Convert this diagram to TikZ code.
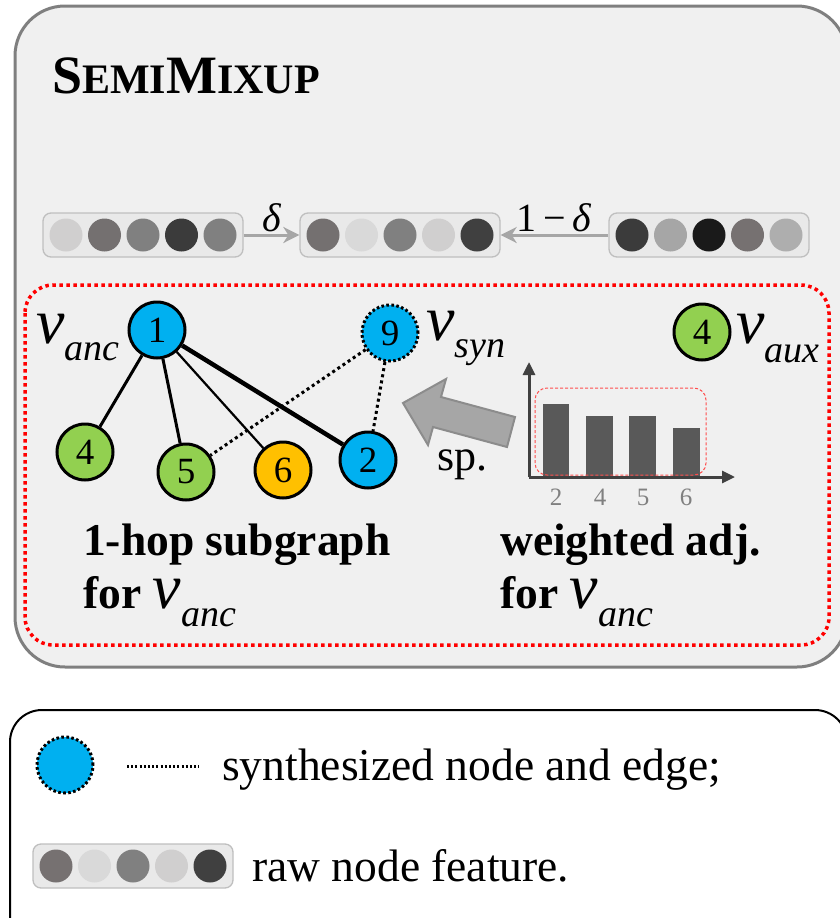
\documentclass[tikz,border=0pt]{standalone}
\usepackage{fontspec}
\setmainfont{Liberation Serif}
\usetikzlibrary{arrows.meta}

\definecolor{panelbg}{HTML}{F0F0F0}
\definecolor{panelrule}{HTML}{7F7F7F}
\definecolor{nodecyan}{HTML}{00B0F0}
\definecolor{nodegreen}{HTML}{92D050}
\definecolor{nodeorange}{HTML}{FFC000}
\definecolor{featbg}{HTML}{E9E9E9}
\definecolor{featrule}{HTML}{BFBFBF}
\definecolor{mixarrow}{HTML}{A6A6A6}
\definecolor{axisgray}{HTML}{404040}
\definecolor{bargray}{HTML}{595959}
\definecolor{ticklabel}{HTML}{808080}
\definecolor{bigarrow}{HTML}{A6A6A6}
\definecolor{bigarrowrule}{HTML}{8C8C8C}
% feature shades
\definecolor{fa}{HTML}{D0CFCF}
\definecolor{fb}{HTML}{747070}
\definecolor{fc}{HTML}{808080}
\definecolor{fd}{HTML}{3B3B3B}
\definecolor{fe}{HTML}{D9D9D9}
\definecolor{ff}{HTML}{404040}
\definecolor{fg}{HTML}{A6A6A6}
\definecolor{fh}{HTML}{1A1A1A}
\definecolor{fi}{HTML}{767171}
\definecolor{fj}{HTML}{AEAEAE}

\newcommand\fsz[1]{\fontsize{#1}{#1}\selectfont}
% italic v with a lowered subscript
\newcommand\vsub[2][-17pt]{{\mdseries\itshape\fsz{64}v}\raisebox{#1}{\mdseries\itshape\fsz{38}#2}}

\tikzset{
  gnode/.style={circle, draw=black, line width=3pt, minimum size=56pt, inner sep=0pt, font=\fsz{37}},
  synnode/.style={gnode, dash pattern=on 2.6pt off 2.4pt},
  synedge/.style={line width=3pt, dash pattern=on 3pt off 3.2pt},
  featbox/.style={draw=featrule, fill=featbg, line width=1.3pt, rounded corners=8pt,
                  minimum width=200pt, minimum height=44pt, inner sep=0pt},
  featdot/.style={circle, minimum size=33pt, inner sep=0pt},
  mixarr/.style={draw=mixarrow, line width=3pt, -{Stealth[length=16pt,width=16pt,inset=5pt]}},
  axisarr/.style={draw=axisgray, line width=3pt, -{Triangle[length=13pt,width=12pt]}},
  bar/.style={fill=bargray},
  captxt/.style={anchor=base west, inner sep=0pt, align=left, font=\fontsize{45.5}{53}\selectfont\bfseries},
  plaintxt/.style={anchor=base west, inner sep=0pt, font=\fsz{45.5}},
}

% a feature vector: box node #1 centred at #2, dots filled with the colours #3
\newcommand\featvec[3]{%
  \node[featbox] (#1) at (#2) {};
  \foreach \c [count=\i] in {#3} {
    \node[featdot, fill=\c] (#1-\i) at ([xshift={(\i-3)*38.5pt}]#1.center) {};
  }%
}

\begin{document}
\begin{tikzpicture}[x=1pt, y=-1pt]
\useasboundingbox (0,0) rectangle (839,918);

% ---------------- main panel ----------------
\draw[panelrule, fill=panelbg, line width=3pt, rounded corners=50pt] (15,6) rectangle (847,667);
\node[anchor=base west, inner sep=0pt, font=\bfseries] (title) at (52,93)
  {\fsz{54}S\fsz{42}EMI\fsz{54}M\fsz{42}IXUP};

% mixing of raw features
\featvec{fvA}{143,235}{fa,fb,fc,fd,fc}
\featvec{fvM}{400,235}{fb,fe,fc,fa,ff}
\featvec{fvB}{709,235}{fd,fg,fh,fi,fj}
\draw[mixarr] (fvA.east) -- (fvM.west) node[midway, above=2pt, inner sep=0pt, font=\fsz{40}\itshape] (dlt) {δ};
\draw[mixarr] (fvB.west) -- (fvM.east) node[midway, above=2pt, inner sep=0pt, font=\fsz{40}] (omd) {1\,−\,\textit{δ}};

% sub-panel
\draw[red, line width=3.5pt, dash pattern=on 3.5pt off 3.5pt, rounded corners=28pt] (25,285) rectangle (829,645);

% 1-hop subgraph
\node[gnode, fill=nodecyan] (n1) at (157,330) {1};
\node[synnode, fill=nodecyan] (n9) at (390,333) {9};
\node[gnode, fill=nodegreen] (n4) at (85,452) {4};
\node[gnode, fill=nodegreen] (n5) at (186,472) {5};
\node[gnode, fill=nodeorange] (n6) at (283,470) {6};
\node[gnode, fill=nodecyan] (n2) at (368,460) {2};
\node[gnode, fill=nodegreen] (aux) at (702,332) {4};

\draw[line width=3pt] (n1) -- (n4);
\draw[line width=3pt] (n1) -- (n5);
\draw[line width=2.2pt] (n1) -- (n6);
\draw[line width=4.5pt] (n1) -- (n2);
\draw[synedge] (n9) -- (n5);
\draw[synedge] (n9) -- (n2);

\node[anchor=base west, inner sep=0pt] (lanc) at (36,343) {\vsub{anc}};
\node[anchor=base west, inner sep=0pt] (lsyn) at (426,340) {\vsub{syn}};
\node[anchor=base west, inner sep=0pt] (laux) at (736,343) {\vsub[-19pt]{aux}};

% sparsification arrow
\filldraw[fill=bigarrow, draw=bigarrowrule, line width=2pt, line join=miter]
  (515,417) -- (441,397) -- (446,379) -- (403,403) -- (428,445) -- (433,427) -- (507,447) -- cycle;
\node[plaintxt, font=\fsz{44}] (sp) at (437,470) {sp.};

% weighted adjacency bars
\coordinate (orig) at (529,477);
\coordinate (ytip) at (529,362);
\coordinate (xtip) at (735,477);
\fill[bar] (543,404) rectangle (569,477);
\fill[bar] (586,416) rectangle (613,477);
\fill[bar] (629,416) rectangle (656,477);
\fill[bar] (673,428) rectangle (700,477);
\draw[red!70, line width=1pt, dash pattern=on 3pt off 2pt, rounded corners=12pt] (535,388) rectangle (706,475);
\draw[axisarr] (orig) -- (ytip);
\draw[axisarr] (orig) -- (xtip);
\foreach \lab/\xx in {2/556, 4/600, 5/643, 6/686}
  \node[anchor=base, inner sep=0pt, text=ticklabel, font=\fsz{25}] (tick\lab) at (\xx,505) {\lab};

% captions (two lines each, anchored at the baseline of the last line)
\node[captxt] (capA) at (83,608) {1-hop subgraph\\for \smash{\vsub[-18pt]{anc}}};
\node[captxt] (capB) at (500,608) {weighted adj.\\for \smash{\vsub[-18pt]{anc}}};

% ---------------- legend ----------------
\draw[black, fill=white, line width=2pt, rounded corners=32pt] (10,710) rectangle (847,950);
\node[synnode, fill=nodecyan, line width=3pt] (legnode) at (65,765) {};
\coordinate (legA) at (127,766);
\coordinate (legB) at (199,766);
\draw[line width=3pt, dash pattern=on 2pt off 2.2pt] (legA) -- (legB);
\node[plaintxt] (legtxt1) at (222,780) {synthesized node and edge;};
\featvec{fvL}{133,866}{fi,fe,fc,fa,ff}
\node[plaintxt] (legtxt2) at (252,881) {raw node feature.};
\end{tikzpicture}
\end{document}
